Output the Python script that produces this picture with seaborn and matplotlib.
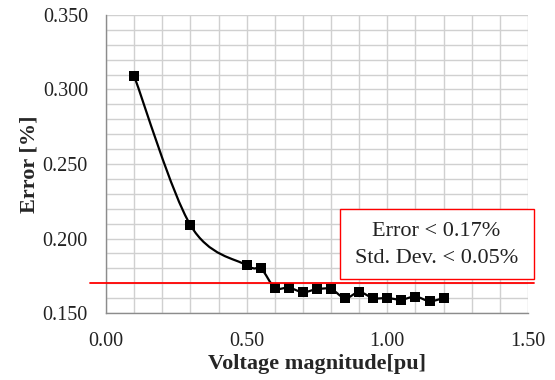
import numpy as np
import pandas as pd
import matplotlib
matplotlib.use("Agg")
import matplotlib.pyplot as plt
from matplotlib.path import Path
from matplotlib.patches import PathPatch, Rectangle
from matplotlib.ticker import MultipleLocator, FormatStrFormatter
from matplotlib.lines import Line2D
import seaborn as sns

voltage = [0.10, 0.30, 0.50, 0.55, 0.60, 0.65, 0.70, 0.75, 0.80, 0.85,
           0.90, 0.95, 1.00, 1.05, 1.10, 1.15, 1.20]
error = [0.309, 0.209, 0.182, 0.180, 0.167, 0.167, 0.164, 0.166, 0.166, 0.160,
         0.164, 0.160, 0.160, 0.159, 0.161, 0.158, 0.160]
threshold = 0.17
box_lines = ["Error < 0.17%", "Std. Dev. < 0.05%"]
x_label = "Voltage magnitude[pu]"
y_label = "Error [%]"

df = pd.DataFrame({"voltage": voltage, "error": error})

sns.set_theme(style="white")
plt.rcParams['font.family'] = ['Liberation Serif', 'DejaVu Serif']

fig = plt.figure(figsize=(5.55, 3.8), dpi=100)
ax = fig.add_axes([106/555, 1-313/380, (528-106)/555, (313-15)/380])

# smooth (Excel-like) curve through the points
pts = df[["voltage", "error"]].to_numpy()
verts = [tuple(pts[0])]
codes = [Path.MOVETO]
n = len(pts)
for i in range(n - 1):
    p0 = pts[i - 1] if i > 0 else pts[i]
    p1 = pts[i]
    p2 = pts[i + 1]
    p3 = pts[i + 2] if i + 2 < n else pts[i + 1]
    c1 = p1 + (p2 - p0) / 6.0
    c2 = p2 - (p3 - p1) / 6.0
    verts += [tuple(c1), tuple(c2), tuple(p2)]
    codes += [Path.CURVE4] * 3
ax.add_patch(PathPatch(Path(verts, codes), facecolor="none", edgecolor="black",
                       lw=1.6, zorder=3))

sns.scatterplot(data=df, x="voltage", y="error", marker="s", s=62, color="black",
                edgecolor="black", linewidth=0, ax=ax, zorder=4)

ax.set_xlim(0, 1.5)
ax.set_ylim(0.15, 0.35)
ax.xaxis.set_major_locator(MultipleLocator(0.5))
ax.xaxis.set_minor_locator(MultipleLocator(0.1))
ax.yaxis.set_major_locator(MultipleLocator(0.05))
ax.yaxis.set_minor_locator(MultipleLocator(0.01))
ax.xaxis.set_major_formatter(FormatStrFormatter("%.2f"))
ax.yaxis.set_major_formatter(FormatStrFormatter("%.3f"))
ax.grid(True, which="both", color="#d0d0d0", lw=1.0, zorder=0)
ax.set_axisbelow(True)
ax.tick_params(which="major", length=5, width=1, color="#8c8c8c", labelsize=14.5,
               labelcolor="#222222")
ax.tick_params(axis="x", which="major", pad=9)
ax.tick_params(axis="y", which="major", pad=8)
ax.tick_params(which="minor", length=0)
for s in ["top", "right"]:
    ax.spines[s].set_visible(False)
for s in ["left", "bottom"]:
    ax.spines[s].set_color("#8c8c8c")
    ax.spines[s].set_linewidth(1.0)

ax.set_xlabel(x_label, fontsize=16, fontweight="bold", labelpad=2)
ax.set_ylabel(y_label, fontsize=16, fontweight="bold", labelpad=2)

# threshold line (extends slightly outside the plot area)
ax.add_line(Line2D([-0.057, 1.52], [threshold, threshold], color="#ff0000", lw=1.3,
                   clip_on=False, zorder=5))

# annotation box
ax.add_patch(Rectangle((0.833, 0.1728), 1.520 - 0.833, 0.2198 - 0.1728,
                       facecolor="white", edgecolor="#ff0000", lw=1.0,
                       clip_on=False, zorder=6))
ax.text(1.174, 0.2017, box_lines[0], ha="center", va="baseline", fontsize=16,
        color="#222222", zorder=7)
ax.text(1.174, 0.1838, box_lines[1], ha="center", va="baseline", fontsize=16,
        color="#222222", zorder=7)

fig.savefig("out.png", dpi=100)
